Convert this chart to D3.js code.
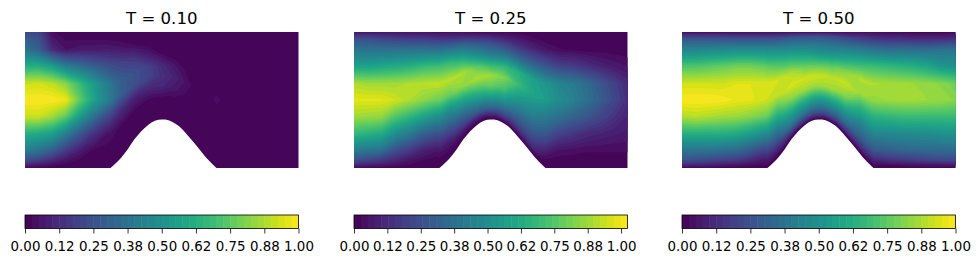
<!DOCTYPE html>
<html>
<head>
<meta charset="utf-8">
<script src="https://cdn.jsdelivr.net/npm/d3@7"></script>
<style>
  html, body { margin: 0; padding: 0; background: #fff; }
  svg { display: block; }
  text { font-family: "DejaVu Sans", sans-serif; fill: #000; }
</style>
</head>
<body>
<div id="chart"></div>
<script>
const titles = ['T = 0.10', 'T = 0.25', 'T = 0.50']
const colorMax = [1, 1.024, 1]
const tickValues = [0, 0.125, 0.25, 0.375, 0.5, 0.625, 0.75, 0.875, 1]
const tickLabels = ['0.00', '0.12', '0.25', '0.38', '0.50', '0.62', '0.75', '0.88', '1.00']

// channel floor, as fractions of the plot box
const floorX = [0, 0.314, 0.347, 0.372, 0.396, 0.42, 0.445, 0.469, 0.487, 0.506, 0.522, 0.536, 0.567, 0.597, 0.628, 0.664, 0.7, 1]
const floorY = [0, 0, 0.064, 0.127, 0.201, 0.26, 0.309, 0.343, 0.355, 0.358, 0.354, 0.342, 0.304, 0.235, 0.162, 0.071, 0, 0]

// grid: one line per column (x = 0, 0.05 ... 1), top wall to floor along etaLevels
const etaLevels = [1, 0.95, 0.87, 0.75, 0.62, 0.5, 0.38, 0.25, 0.13, 0.06, 0.02, 0]

const fieldT10 = [
  [.22, .30, .38, .62, .92, 1.0, .92, .62, .42, .25, .10, .03],
  [.20, .25, .30, .62, .93, 1.0, .92, .60, .38, .20, .06, .02],
  [.03, .06, .12, .55, .90, 1.0, .86, .55, .30, .12, .03, .01],
  [0, .02, .05, .42, .82, .97, .75, .42, .18, .06, .01, 0],
  [0, .02, .07, .36, .68, .76, .55, .27, .08, .02, 0, 0],
  [0, .02, .07, .30, .55, .58, .38, .14, .02, 0, 0, 0],
  [0, .02, .08, .25, .42, .44, .22, .05, .01, 0, 0, 0],
  [0, .01, .06, .20, .30, .30, .12, .02, 0, 0, 0, 0],
  [0, 0, .03, .16, .25, .24, .09, .01, 0, 0, 0, 0],
  [0, 0, .01, .08, .20, .20, .10, .01, 0, 0, 0, 0],
  [0, 0, 0, .02, .12, .14, .11, .02, 0, 0, 0, 0],
  [0, 0, 0, 0, .06, .09, .06, .01, 0, 0, 0, 0],
  [0, 0, 0, 0, .01, .03, .01, 0, 0, 0, 0, 0],
  [0, 0, 0, 0, 0, 0, 0, 0, 0, 0, 0, 0],
  [0, 0, 0, 0, 0, .035, 0, 0, 0, 0, 0, 0],
  [0, 0, 0, 0, 0, 0, 0, 0, 0, 0, 0, 0],
  [0, 0, 0, 0, 0, 0, 0, 0, 0, 0, 0, 0],
  [0, 0, 0, 0, 0, 0, 0, 0, 0, 0, 0, 0],
  [0, 0, 0, 0, 0, 0, 0, 0, 0, 0, 0, 0],
  [0, 0, 0, 0, 0, 0, 0, 0, 0, 0, 0, 0],
  [0, 0, 0, 0, 0, 0, 0, 0, 0, 0, 0, 0]
]

const fieldT25 = [
  [.05, .25, .40, .58, .90, .98, .88, .68, .42, .26, .10, .03],
  [.05, .25, .38, .58, .88, .98, .87, .65, .40, .22, .08, .02],
  [.05, .22, .38, .60, .88, .98, .86, .62, .38, .18, .06, .01],
  [.05, .20, .38, .62, .88, .95, .75, .50, .25, .12, .04, .01],
  [.05, .18, .38, .64, .90, .90, .68, .42, .18, .06, .02, 0],
  [.05, .18, .38, .68, .92, .85, .60, .32, .10, .03, .01, 0],
  [.04, .16, .38, .70, .93, .80, .52, .25, .06, .01, 0, 0],
  [.03, .15, .38, .70, .92, .78, .50, .28, .08, .02, 0, 0],
  [.03, .14, .36, .62, .90, .86, .62, .38, .18, .05, .01, 0],
  [.02, .12, .30, .50, .78, .90, .72, .50, .28, .08, .01, 0],
  [.02, .10, .26, .42, .68, .88, .78, .55, .32, .12, .02, 0],
  [.02, .07, .20, .40, .68, .82, .72, .52, .30, .14, .03, 0],
  [.01, .05, .14, .34, .64, .70, .56, .40, .24, .12, .03, 0],
  [.01, .03, .10, .30, .58, .60, .50, .36, .22, .12, .03, 0],
  [0, .01, .06, .27, .54, .56, .42, .28, .10, .02, .01, 0],
  [0, 0, .03, .20, .46, .50, .38, .20, .05, .01, .005, 0],
  [0, 0, .02, .18, .42, .45, .33, .16, .04, .01, 0, 0],
  [0, 0, .01, .14, .36, .38, .28, .12, .03, .01, 0, 0],
  [0, 0, .01, .10, .28, .30, .22, .10, .03, .01, 0, 0],
  [0, 0, .01, .07, .20, .22, .16, .08, .03, .01, 0, 0],
  [0, 0, .005, .05, .12, .14, .10, .07, .03, .01, 0, 0]
]

const fieldT50 = [
  [.03, .27, .45, .72, .93, 1.0, .88, .62, .38, .26, .10, .02],
  [.03, .26, .45, .72, .93, 1.0, .90, .62, .38, .24, .09, .02],
  [.03, .26, .46, .74, .93, 1.0, .88, .62, .38, .22, .08, .02],
  [.03, .26, .47, .76, .93, .99, .86, .62, .36, .20, .06, .01],
  [.03, .25, .48, .78, .95, .97, .85, .60, .34, .18, .05, .01],
  [.03, .25, .48, .78, .95, .96, .82, .55, .28, .12, .03, .01],
  [.03, .25, .48, .76, .95, .93, .78, .48, .20, .07, .02, 0],
  [.03, .24, .46, .70, .93, .90, .70, .46, .22, .08, .02, 0],
  [.03, .26, .43, .64, .88, .94, .82, .58, .38, .15, .03, 0],
  [.03, .25, .40, .58, .78, .93, .86, .60, .38, .18, .04, 0],
  [.03, .25, .38, .52, .75, .92, .85, .58, .35, .18, .05, 0],
  [.03, .22, .36, .52, .76, .90, .86, .60, .36, .18, .04, 0],
  [.03, .20, .36, .58, .82, .92, .80, .55, .34, .15, .03, 0],
  [.03, .18, .38, .64, .88, .86, .64, .44, .28, .13, .03, 0],
  [.03, .16, .38, .68, .88, .84, .64, .45, .27, .10, .02, 0],
  [.02, .14, .36, .66, .87, .85, .66, .46, .30, .14, .02, .01],
  [.02, .14, .36, .64, .86, .86, .68, .47, .32, .16, .03, .01],
  [.01, .12, .36, .62, .85, .86, .68, .48, .33, .18, .04, .01],
  [.01, .12, .36, .58, .84, .85, .68, .48, .34, .20, .05, .01],
  [.01, .12, .38, .52, .82, .84, .68, .50, .34, .22, .05, .01],
  [.02, .14, .38, .50, .78, .82, .68, .50, .35, .22, .06, .01]
]

const fields = [fieldT10, fieldT25, fieldT50]
const plotLeft = [25, 354, 682]
const plotWidth = 273.5
const plotTop = 32
const plotBottom = 168
const barTop = 215
const barBottom = 228.5
const bandCount = 40

const nCols = fieldT10.length
const nRows = etaLevels.length

const svg = d3.select('#chart').append('svg')
  .attr('width', 980)
  .attr('height', 262)

// contour coordinates are in grid cells, these bring them back to the box
const colToX = d3.scaleLinear().domain([0.5, nCols - 0.5]).range([0, 1]).clamp(true)
const rowToEta = d3.scaleLinear().domain(d3.range(nRows).map(i => i + 0.5)).range(etaLevels).clamp(true)
const floorAt = d3.scaleLinear().domain(floorX).range(floorY)
const yPx = d3.scaleLinear().domain([0, 1]).range([plotBottom, plotTop])

// the floor is curved so long ring edges need extra vertices before mapping
function densify(geom, n) {
  const rings = geom.coordinates.map(poly => poly.map(ring => {
    const out = []
    for (let i = 0; i < ring.length - 1; i++) {
      const a = ring[i], b = ring[i + 1]
      for (let k = 0; k < n; k++) {
        out.push([a[0] + (b[0] - a[0]) * k / n, a[1] + (b[1] - a[1]) * k / n])
      }
    }
    out.push(ring[ring.length - 1])
    return out
  }))
  return {type: 'MultiPolygon', coordinates: rings, value: geom.value}
}

fields.forEach((field, p) => {
  const vmax = colorMax[p]
  const step = vmax / bandCount
  const thresholds = d3.range(bandCount).map(i => i * step)
  const color = v => d3.interpolateViridis(v / vmax)

  const xPx = d3.scaleLinear().domain([0, 1]).range([plotLeft[p], plotLeft[p] + plotWidth])

  const toScreen = d3.geoTransform({
    point: function(c, r) {
      const fx = colToX(c)
      const fl = floorAt(fx)
      this.stream.point(xPx(fx), yPx(fl + rowToEta(r) * (1 - fl)))
    }
  })
  const path = d3.geoPath(toScreen)

  const values = d3.transpose(field).flat()
  const contours = d3.contours().size([nCols, nRows]).thresholds(thresholds)(values)

  const g = svg.append('g').attr('class', 'panel')

  g.selectAll('path')
    .data(contours)
    .join('path')
    .attr('d', d => path(densify(d, 4)))
    .attr('fill', d => color(d.value + step / 2))

  g.append('text')
    .attr('x', plotLeft[p] + plotWidth / 2)
    .attr('y', 23.5)
    .attr('text-anchor', 'middle')
    .style('font-size', '16.6px')
    .text(titles[p])

  // colorbar
  const barWidth = plotWidth
  const barScale = d3.scaleLinear().domain([0, vmax]).range([plotLeft[p], plotLeft[p] + barWidth])
  const bar = svg.append('g').attr('class', 'colorbar')

  bar.selectAll('rect.band')
    .data(thresholds)
    .join('rect')
    .attr('class', 'band')
    .attr('x', d => barScale(d))
    .attr('y', barTop)
    .attr('width', (d, i) => barScale(d + step) - barScale(d) + (i < bandCount - 1 ? 0.5 : 0))
    .attr('height', barBottom - barTop)
    .attr('fill', d => color(d + step / 2))

  bar.append('rect')
    .attr('x', plotLeft[p])
    .attr('y', barTop)
    .attr('width', barWidth)
    .attr('height', barBottom - barTop)
    .attr('fill', 'none')
    .attr('stroke', '#000')
    .attr('stroke-width', 0.8)

  const axis = d3.axisBottom(barScale)
    .tickValues(tickValues)
    .tickFormat((d, i) => tickLabels[i])
    .tickSize(5)
    .tickPadding(7.7)

  const ax = bar.append('g')
    .attr('transform', `translate(0,${barBottom})`)
    .call(axis)
  ax.select('.domain').remove()
  ax.selectAll('line').attr('stroke', '#000').attr('stroke-width', 0.8)
  ax.selectAll('text')
    .attr('fill', '#000')
    .style('font-size', '13.4px')
    .style('font-family', '"DejaVu Sans", sans-serif')
})
</script>
</body>
</html>
